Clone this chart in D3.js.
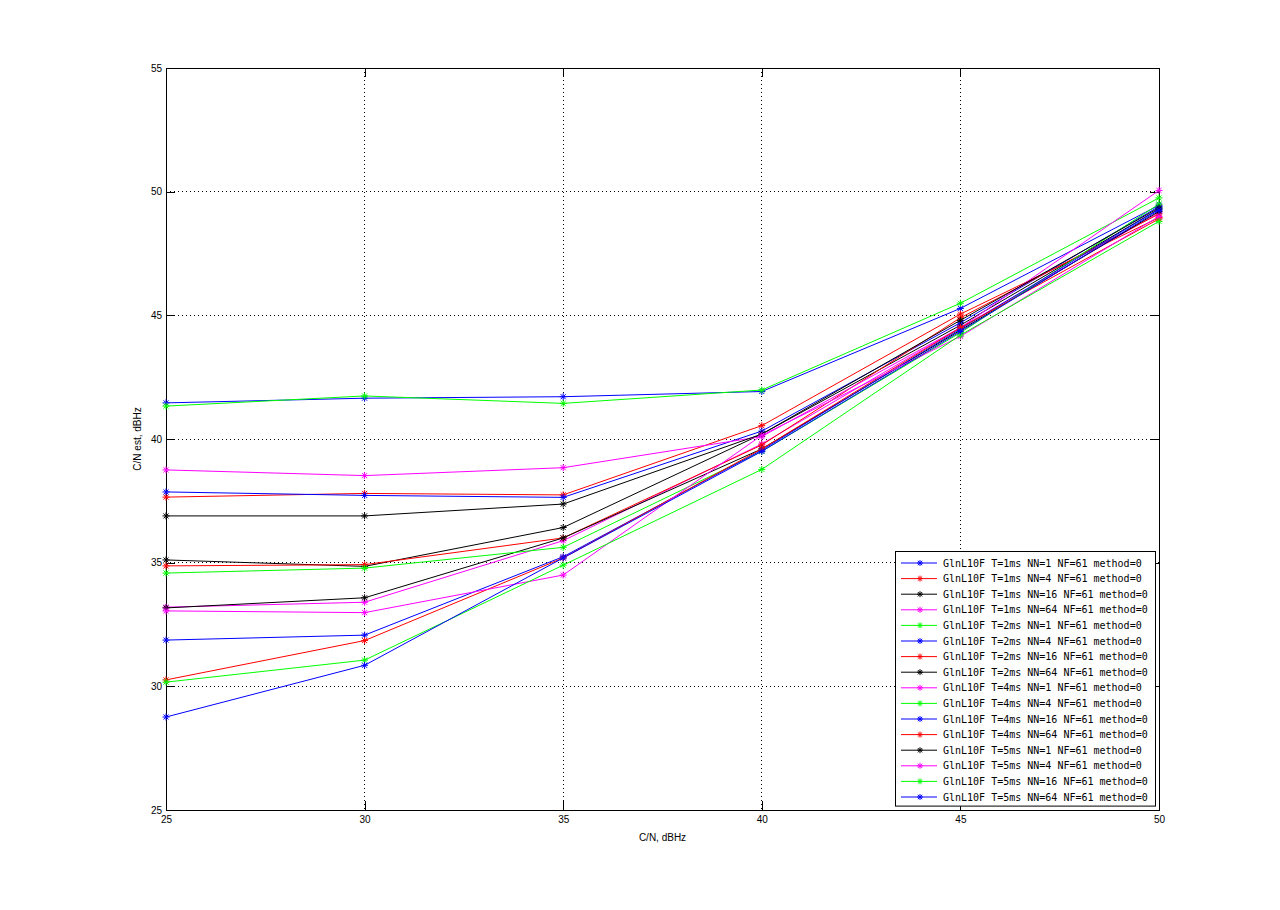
<!DOCTYPE html>
<html>
<head>
<meta charset="utf-8">
<script src="https://cdn.jsdelivr.net/npm/d3@7"></script>
<style>
  body { margin: 0; background: #fff; }
  svg { display: block; }
  .tick text { font-family: "Liberation Sans", Arial, sans-serif; font-size: 10px; fill: #000; }
</style>
</head>
<body>
<div id="chart"></div>
<script>
// x positions (true C/N, dBHz)
var cnTrue = [25, 30, 35, 40, 45, 50]
var xTicks = [25, 30, 35, 40, 45, 50]
var yTicks = [25, 30, 35, 40, 45, 50, 55]

var legendLabels = [
  'GlnL10F T=1ms NN=1 NF=61 method=0',
  'GlnL10F T=1ms NN=4 NF=61 method=0',
  'GlnL10F T=1ms NN=16 NF=61 method=0',
  'GlnL10F T=1ms NN=64 NF=61 method=0',
  'GlnL10F T=2ms NN=1 NF=61 method=0',
  'GlnL10F T=2ms NN=4 NF=61 method=0',
  'GlnL10F T=2ms NN=16 NF=61 method=0',
  'GlnL10F T=2ms NN=64 NF=61 method=0',
  'GlnL10F T=4ms NN=1 NF=61 method=0',
  'GlnL10F T=4ms NN=4 NF=61 method=0',
  'GlnL10F T=4ms NN=16 NF=61 method=0',
  'GlnL10F T=4ms NN=64 NF=61 method=0',
  'GlnL10F T=5ms NN=1 NF=61 method=0',
  'GlnL10F T=5ms NN=4 NF=61 method=0',
  'GlnL10F T=5ms NN=16 NF=61 method=0',
  'GlnL10F T=5ms NN=64 NF=61 method=0'
]

// estimated C/N per series
var est_T1_NN1  = [41.46, 41.65, 41.71, 41.92, 45.28, 49.45]
var est_T1_NN4  = [37.65, 37.80, 37.74, 40.54, 45.05, 48.95]
var est_T1_NN16 = [35.11, 34.85, 36.42, 40.20, 44.60, 49.30]
var est_T1_NN64 = [33.20, 33.40, 35.89, 39.80, 44.50, 49.15]
var est_T2_NN1  = [41.33, 41.74, 41.44, 41.98, 45.49, 49.75]
var est_T2_NN4  = [37.86, 37.72, 37.64, 40.32, 44.70, 49.40]
var est_T2_NN16 = [34.87, 34.92, 36.00, 39.76, 44.90, 49.10]
var est_T2_NN64 = [33.17, 33.58, 36.00, 39.60, 44.40, 49.20]
var est_T4_NN1  = [38.75, 38.52, 38.84, 40.10, 44.50, 50.05]
var est_T4_NN4  = [34.58, 34.78, 35.62, 39.50, 44.30, 49.50]
var est_T4_NN16 = [31.87, 32.07, 35.24, 39.55, 44.45, 49.30]
var est_T4_NN64 = [30.26, 31.85, 35.19, 39.60, 44.50, 48.90]
var est_T5_NN1  = [36.89, 36.89, 37.37, 40.20, 44.80, 49.35]
var est_T5_NN4  = [33.05, 32.98, 34.50, 40.15, 44.15, 49.00]
var est_T5_NN16 = [30.17, 31.06, 34.90, 38.77, 44.20, 48.80]
var est_T5_NN64 = [28.76, 30.85, 35.19, 39.50, 44.35, 49.25]

var seriesValues = [
  est_T1_NN1, est_T1_NN4, est_T1_NN16, est_T1_NN64,
  est_T2_NN1, est_T2_NN4, est_T2_NN16, est_T2_NN64,
  est_T4_NN1, est_T4_NN4, est_T4_NN16, est_T4_NN64,
  est_T5_NN1, est_T5_NN4, est_T5_NN16, est_T5_NN64
]

// matlab colour order b r k m g
var palette = ['#0000ff', '#ff0000', '#000000', '#ff00ff', '#00ff00']

var W = 1280, H = 910
var margin = {top: 68, right: 121, bottom: 100, left: 166}
var width = W - margin.left - margin.right
var height = H - margin.top - margin.bottom

var svg = d3.select('#chart').append('svg')
  .attr('width', W)
  .attr('height', H)

var g = svg.append('g')
  .attr('transform', 'translate(' + margin.left + ',' + margin.top + ')')

var x = d3.scaleLinear().domain([25, 50]).range([0, width])
var y = d3.scaleLinear().domain([25, 55]).range([height, 0])

// grid
g.append('g').selectAll('line')
  .data(xTicks.slice(1, -1))
  .enter().append('line')
    .attr('x1', d => x(d)).attr('x2', d => x(d))
    .attr('y1', 0).attr('y2', height)
    .attr('stroke', '#000').attr('stroke-width', 1)
    .attr('stroke-dasharray', '1,3')
    .attr('shape-rendering', 'crispEdges')
g.append('g').selectAll('line')
  .data(yTicks.slice(1, -1))
  .enter().append('line')
    .attr('y1', d => y(d)).attr('y2', d => y(d))
    .attr('x1', 0).attr('x2', width)
    .attr('stroke', '#000').attr('stroke-width', 1)
    .attr('stroke-dasharray', '1,3')
    .attr('shape-rendering', 'crispEdges')

// axes, ticks point inwards like matlab
var tl = 9
g.append('g')
  .attr('transform', 'translate(0,' + height + ')')
  .call(d3.axisBottom(x).tickValues(xTicks).tickSize(-tl).tickPadding(6))
g.append('g')
  .call(d3.axisLeft(y).tickValues(yTicks).tickSize(-tl).tickPadding(4))
g.append('g')
  .call(d3.axisTop(x).tickValues(xTicks).tickSize(-tl).tickFormat(''))
g.append('g')
  .attr('transform', 'translate(' + width + ',0)')
  .call(d3.axisRight(y).tickValues(yTicks).tickSize(-tl).tickFormat(''))
g.selectAll('.domain').attr('stroke', '#000')
g.selectAll('.tick line').attr('stroke', '#000')
g.selectAll('path, line').attr('shape-rendering', 'crispEdges')

// lines
var line = d3.line()
  .x((d, i) => x(cnTrue[i]))
  .y(d => y(d))

function star(sel, r) {
  var d = 0.72 * r
  sel.append('line').attr('x1', -r).attr('x2', r).attr('y1', 0).attr('y2', 0)
  sel.append('line').attr('x1', 0).attr('x2', 0).attr('y1', -r).attr('y2', r)
  sel.append('line').attr('x1', -d).attr('x2', d).attr('y1', -d).attr('y2', d)
  sel.append('line').attr('x1', -d).attr('x2', d).attr('y1', d).attr('y2', -d)
}

seriesValues.forEach(function(vals, s) {
  var col = palette[s % palette.length]
  var sg = g.append('g')
  sg.append('path')
    .datum(vals)
    .attr('d', line)
    .attr('fill', 'none')
    .attr('stroke', col)
    .attr('stroke-width', 1)
  sg.selectAll('g.mk')
    .data(vals)
    .enter().append('g')
      .attr('class', 'mk')
      .attr('transform', (d, i) => 'translate(' + x(cnTrue[i]) + ',' + y(d) + ')')
      .attr('stroke', col)
      .attr('stroke-width', 1)
      .each(function() { star(d3.select(this), 3.5) })
})

// axis labels
svg.append('text')
  .attr('x', margin.left + width / 2)
  .attr('y', margin.top + height + 31)
  .attr('text-anchor', 'middle')
  .style('font-family', '"Liberation Sans", Arial, sans-serif')
  .style('font-size', '10px')
  .text('C/N, dBHz')
svg.append('text')
  .attr('transform', 'translate(' + (margin.left - 25) + ',' + (margin.top + height / 2) + ') rotate(-90)')
  .attr('text-anchor', 'middle')
  .style('font-family', '"Liberation Sans", Arial, sans-serif')
  .style('font-size', '10px')
  .text('C/N est, dBHz')

// legend
var lgX = 895, lgY = 551, lgW = 260, rowH = 15.6
var lg = svg.append('g')
lg.append('rect')
  .attr('x', lgX + 0.5).attr('y', lgY + 0.5)
  .attr('width', lgW).attr('height', rowH * legendLabels.length + 5)
  .attr('fill', '#fff').attr('stroke', '#000')
legendLabels.forEach(function(lab, i) {
  var col = palette[i % palette.length]
  var cy = lgY + 12 + i * rowH
  lg.append('line')
    .attr('x1', lgX + 6).attr('x2', lgX + 42)
    .attr('y1', cy).attr('y2', cy)
    .attr('stroke', col)
  var m = lg.append('g')
    .attr('transform', 'translate(' + (lgX + 25) + ',' + cy + ')')
    .attr('stroke', col)
  star(m, 3)
  lg.append('text')
    .attr('x', lgX + 48).attr('y', cy + 3.5)
    .style('font-family', '"DejaVu Sans Mono", monospace')
    .style('font-size', '10px')
    .text(lab)
})
</script>
</body>
</html>
